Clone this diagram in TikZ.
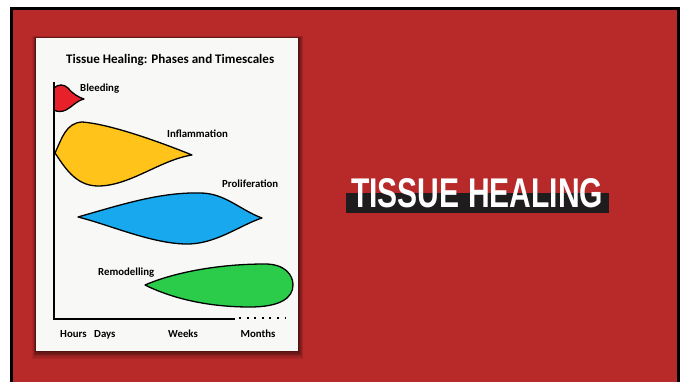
\documentclass[tikz,border=0pt]{standalone}
\usepackage{fontspec}
\setmainfont{Carlito}
\newfontfamily\bannerfont{Liberation Sans}
\usetikzlibrary{shadows}
\definecolor{bgred}{HTML}{B8292A}
\definecolor{paper}{HTML}{F8F8F6}
\definecolor{bleedred}{HTML}{E8202A}
\definecolor{inflyellow}{HTML}{FFC31A}
\definecolor{proliblue}{HTML}{18A8EE}
\definecolor{remgreen}{HTML}{2ACC4A}
\definecolor{bannerblack}{HTML}{1E1C1C}
\tikzset{
  blob/.style={draw=black, line width=1.3pt, line join=round},
  lbl/.style={font=\fontsize{10.8}{12}\selectfont\bfseries, text=black, inner sep=0pt},
  axisline/.style={draw=black, line width=1.4pt}
}
\begin{document}
\begin{tikzpicture}[x=1pt,y=-1pt]
\useasboundingbox (0,0) rectangle (685,382);
\clip (0,0) rectangle (685,382);
\fill[white] (0,0) rectangle (685,382);
% outer red frame
\draw[line width=3pt, fill=bgred] (11.5,8.5) rectangle (678.5,386);
% panel shadow
\foreach \i/\o in {6/0.06,5/0.08,4/0.10,3/0.12,2/0.14,1/0.18}{
  \fill[black, opacity=\o] (36-\i*0.6,38-\i*0.3) rectangle (298+\i*0.9,351+\i*1.3);
}
% panel
\fill[paper] (36,38) rectangle (298,351);
% title
\node[anchor=base west, inner sep=0pt, text=black] (title) at (66,64)
  {\resizebox{208pt}{!}{\bfseries Tissue Healing: Phases and Timescales}};
% phases
\path[blob, fill=bleedred] (54,88) .. controls (58,84) and (64,84) .. (68,88)
  .. controls (73,94) and (78,97) .. (84,99)
  .. controls (76,101) and (72,107) .. (66,110)
  .. controls (62,112) and (57,112) .. (54,110) -- cycle;
\path[blob, fill=inflyellow] (55,153) .. controls (62,138) and (66,123) .. (82,122)
  .. controls (110,124) and (160,142) .. (192,155)
  .. controls (160,160) and (130,186) .. (98,186)
  .. controls (75,186) and (64,166) .. (55,153) -- cycle;
\path[blob, fill=proliblue] (78,217) .. controls (120,205) and (160,192) .. (200,193)
  .. controls (225,193) and (240,210) .. (262,218)
  .. controls (240,225) and (215,245) .. (185,244)
  .. controls (150,243) and (110,225) .. (78,217) -- cycle;
\path[blob, fill=remgreen] (145,285) .. controls (175,272) and (220,264) .. (265,264)
  .. controls (285,264) and (293,275) .. (293,285)
  .. controls (293,298) and (280,307) .. (250,307)
  .. controls (200,307) and (165,295) .. (145,285) -- cycle;
% axes
\coordinate (ytop) at (54,82);
\coordinate (origin) at (54,319);
\coordinate (xend) at (235,319);
\coordinate (dotstart) at (239,318);
\coordinate (dotend) at (285,318);
\draw[axisline] (ytop) -- (origin) -- (xend);
\draw[line width=2pt, dash pattern=on 2pt off 5.6pt] (dotstart) -- (dotend);
% labels
\node[lbl, anchor=base west] (bleeding) at (80,92) {Bleeding};
\node[lbl, anchor=base west] (inflammation) at (167,138) {Inflammation};
\node[lbl, anchor=base west] (proliferation) at (222,188) {Proliferation};
\node[lbl, anchor=base west] (remodelling) at (98,275) {Remodelling};
\node[lbl, anchor=base west] (hours) at (60,337) {Hours};
\node[lbl, anchor=base west] (days) at (94,337) {Days};
\node[lbl, anchor=base] (weeks) at (183,337) {Weeks};
\node[lbl, anchor=base] (months) at (258,337) {Months};
% banner
\fill[bannerblack] (346,193) rectangle (609,213);
\node[anchor=base west, inner sep=0pt, text=white] (banner) at (351,208)
  {\resizebox{252pt}{29pt}{\bannerfont\bfseries TISSUE HEALING}};
\end{tikzpicture}
\end{document}
